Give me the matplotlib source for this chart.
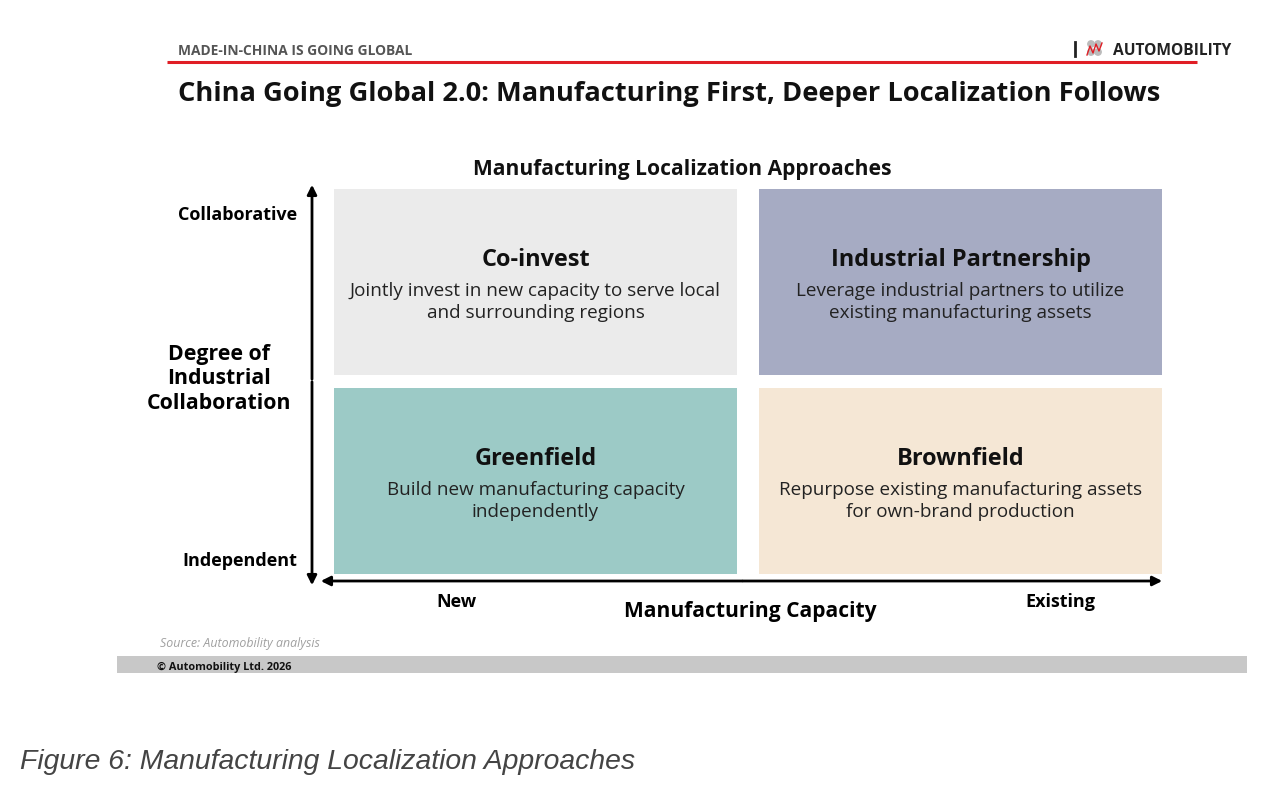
import matplotlib.pyplot as plt
from matplotlib.patches import Rectangle, Circle

plt.rcParams['font.family'] = ['Open Sans', 'DejaVu Sans']

# quadrant contents: (name, description, column, row)
quad_names = ['Co-invest', 'Industrial Partnership', 'Greenfield', 'Brownfield']
quad_desc = ['Jointly invest in new capacity to serve local\nand surrounding regions',
             'Leverage industrial partners to utilize\nexisting manufacturing assets',
             'Build new manufacturing capacity\nindependently',
             'Repurpose existing manufacturing assets\nfor own-brand production']
quad_col = [0, 1, 0, 1]
quad_row = [1, 1, 0, 0]
quad_colors = ['#ebebeb', '#a6abc3', '#9ccac6', '#f5e7d5']

x_labels = ['New', 'Existing']
y_labels = ['Independent', 'Collaborative']

fig = plt.figure(figsize=(12.8, 8.03), dpi=100)
ax = fig.add_axes([0, 0, 1, 1])
ax.set_xlim(0, 1280)
ax.set_ylim(803, 0)
ax.axis('off')

# header
ax.text(178, 51, 'MADE-IN-CHINA IS GOING GLOBAL', fontsize=9.9, fontweight='bold',
        color='#555555', va='center', ha='left')
ax.plot([167, 1197], [63, 63], color='#e01e25', lw=2.2, solid_capstyle='butt')
ax.plot([1075, 1075], [43, 57], color='#222222', lw=2)
for cx, cy in [(1091, 45), (1098, 45), (1091, 53), (1098, 53)]:
    ax.add_patch(Circle((cx, cy), 3.2, color='#bbbbbb'))
ax.plot([1087, 1090, 1093, 1096, 1099, 1102], [56, 47, 54, 45, 52, 44], color='#e01e25', lw=1)
ax.text(1113, 51, 'AUTOMOBILITY', fontsize=11.2, fontweight='bold', color='#222222',
        va='center', ha='left')

ax.text(178, 94, 'China Going Global 2.0: Manufacturing First, Deeper Localization Follows',
        fontsize=19.6, fontweight='bold', color='#111111', va='center', ha='left')

ax.text(682, 170, 'Manufacturing Localization Approaches', fontsize=15.1, fontweight='bold',
        color='#111111', va='center', ha='center')

# quadrants
box_x = [334, 759]
box_y = [389, 190]
box_w, box_h = 403, 186
for name, desc, col, row, color in zip(quad_names, quad_desc, quad_col, quad_row, quad_colors):
    x0 = box_x[col]
    y0 = box_y[row]
    ax.add_patch(Rectangle((x0, y0), box_w, box_h, facecolor=color, edgecolor='none'))
    cx = x0 + box_w / 2
    ax.text(cx, y0 + 70, name, fontsize=16.9, fontweight='bold', color='#111111',
            ha='center', va='center')
    ax.text(cx, y0 + 112, desc, fontsize=13.6, color='#222222', ha='center', va='center',
            linespacing=1.27)

# axes arrows
ax.annotate('', xy=(312, 183), xytext=(312, 383),
            arrowprops=dict(arrowstyle='-|>', color='black', lw=2, mutation_scale=14))
ax.annotate('', xy=(312, 589), xytext=(312, 380),
            arrowprops=dict(arrowstyle='-|>', color='black', lw=2, mutation_scale=14))
ax.annotate('', xy=(318, 582), xytext=(745, 582),
            arrowprops=dict(arrowstyle='-|>', color='black', lw=2, mutation_scale=14))
ax.annotate('', xy=(1165, 582), xytext=(740, 582),
            arrowprops=dict(arrowstyle='-|>', color='black', lw=2, mutation_scale=14))

ax.text(297, 215, y_labels[1], fontsize=13, fontweight='bold', ha='right', va='center')
ax.text(297, 561, y_labels[0], fontsize=13, fontweight='bold', ha='right', va='center')
ax.text(219, 379, 'Degree of\nIndustrial\nCollaboration', fontsize=15.3, fontweight='bold',
        ha='center', va='center', linespacing=1.2)
ax.text(456, 602, x_labels[0], fontsize=13, fontweight='bold', ha='center', va='center')
ax.text(1060, 602, x_labels[1], fontsize=13, fontweight='bold', ha='center', va='center')
ax.text(750, 612, 'Manufacturing Capacity', fontsize=15.1, fontweight='bold',
        ha='center', va='center')

# footer
ax.text(160, 644, 'Source: Automobility analysis', fontsize=8.9, style='italic',
        color='#a0a0a0', ha='left', va='center')
ax.add_patch(Rectangle((117, 657), 1130, 17, facecolor='#c8c8c8', edgecolor='none'))
ax.text(157, 667, '© Automobility Ltd. 2026', fontsize=7.8, fontweight='bold',
        color='#111111', ha='left', va='center')

ax.text(20, 762, 'Figure 6: Manufacturing Localization Approaches', fontsize=20.4,
        style='italic', color='#444444', ha='left', va='center',
        family=['Liberation Sans', 'DejaVu Sans'])

fig.savefig('out.png', dpi=100)
